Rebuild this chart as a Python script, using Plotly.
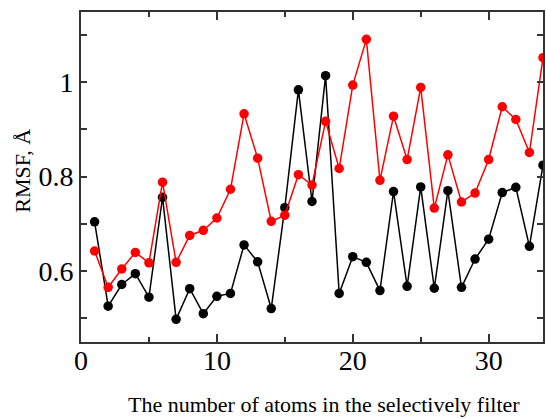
import plotly.graph_objects as go

atoms = list(range(1, 35))
rmsf_black = [0.704, 0.525, 0.571, 0.594, 0.544, 0.756, 0.497, 0.562, 0.509, 0.546,
              0.552, 0.655, 0.619, 0.520, 0.734, 0.984, 0.747, 1.014, 0.552, 0.630,
              0.618, 0.558, 0.768, 0.567, 0.778, 0.563, 0.770, 0.565, 0.625, 0.667,
              0.766, 0.777, 0.652, 0.824]
rmsf_red = [0.642, 0.565, 0.604, 0.639, 0.617, 0.788, 0.618, 0.675, 0.686, 0.712,
            0.773, 0.933, 0.839, 0.705, 0.718, 0.804, 0.782, 0.917, 0.817, 0.994,
            1.091, 0.792, 0.928, 0.836, 0.989, 0.733, 0.846, 0.746, 0.765, 0.836,
            0.948, 0.921, 0.851, 1.052]
x_tickvals = [0, 10, 20, 30]
x_ticktext = ["0", "10", "20", "30"]
y_tickvals = [0.6, 0.8, 1.0]
y_ticktext = ["0.6", "0.8", "1"]
x_title = "The number of atoms in the selectively filter"
y_title = "RMSF, Å"

fig = go.Figure()
fig.add_trace(go.Scatter(x=atoms, y=rmsf_black, mode="lines+markers",
                         line=dict(color="black", width=1.5),
                         marker=dict(color="black", size=9.5)))
fig.add_trace(go.Scatter(x=atoms, y=rmsf_red, mode="lines+markers",
                         line=dict(color="#ff0000", width=1.5),
                         marker=dict(color="#ff0000", size=9.5)))

axis_common = dict(showline=True, linecolor="#333333", linewidth=2, mirror="ticks",
                   showgrid=False, zeroline=False, ticks="inside", tickcolor="#333333",
                   tickwidth=1.5,
                   tickfont=dict(family="Liberation Serif", size=28, color="black"))

fig.update_xaxes(range=[0, 34], tickvals=x_tickvals, ticktext=x_ticktext, ticklen=8,
                 ticklabelstandoff=-8,
                 minor=dict(dtick=5, tick0=0, ticks="inside", ticklen=5,
                            tickcolor="#333333", tickwidth=1.5),
                 **axis_common)
fig.update_yaxes(range=[0.449, 1.149], tickvals=y_tickvals, ticktext=y_ticktext, ticklen=6,
                 minor=dict(dtick=0.2, tick0=0.5, ticks="inside", ticklen=6,
                            tickcolor="#333333", tickwidth=1.5),
                 **axis_common)

fig.update_layout(width=546, height=418, showlegend=False,
                  margin=dict(l=81, r=1, t=12, b=76),
                  plot_bgcolor="white", paper_bgcolor="white",
                  annotations=[
                      dict(text=x_title, xref="paper", yref="paper", x=0.526, y=-0.19,
                           xanchor="center", yanchor="middle", showarrow=False,
                           font=dict(family="Liberation Serif", size=22, color="black")),
                      dict(text=y_title, xref="paper", yref="paper", x=-0.127, y=0.52,
                           xanchor="center", yanchor="middle", showarrow=False, textangle=-90,
                           font=dict(family="Liberation Serif", size=22, color="black")),
                  ])

# remove the page's default 8px body margin so the figure fills the window exactly
fig.write_html("out.html", config={"displayModeBar": False},
               post_script="document.body.style.margin='0';document.body.style.overflow='hidden';")
